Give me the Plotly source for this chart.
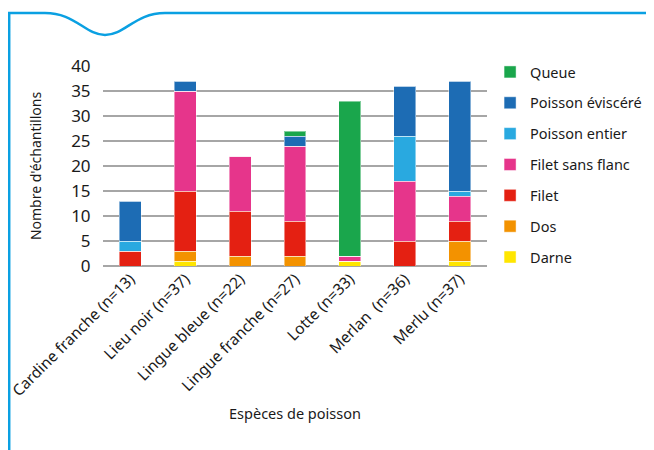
import plotly.graph_objects as go

categories = ["Cardine franche (n=13)", "Lieu noir (n=37)", "Lingue bleue (n=22)",
              "Lingue franche (n=27)", "Lotte (n=33)", "Merlan  (n=36)", "Merlu (n=37)"]
darne = [0, 1, 0, 0, 1, 0, 1]
dos = [0, 2, 2, 2, 0, 0, 4]
filet = [3, 12, 9, 7, 0, 5, 4]
filet_sans_flanc = [0, 20, 11, 15, 1, 12, 5]
poisson_entier = [2, 0, 0, 0, 0, 9, 1]
poisson_eviscere = [8, 2, 0, 2, 0, 10, 22]
queue = [0, 0, 0, 1, 31, 0, 0]
y_ticks = [0, 5, 10, 15, 20, 25, 30, 35, 40]

series = [
    ("Darne", darne, "#ffe600"),
    ("Dos", dos, "#f39200"),
    ("Filet", filet, "#e42012"),
    ("Filet sans flanc", filet_sans_flanc, "#e6358b"),
    ("Poisson entier", poisson_entier, "#29a9e0"),
    ("Poisson éviscéré", poisson_eviscere, "#1d6cb4"),
    ("Queue", queue, "#1aa64c"),
]

W, H = 646, 442
ML, MT = 95, 58
PW, PH = 384, 200
MR, MB = W - ML - PW, H - MT - PH

fig = go.Figure()
n = len(series)
for i, (name, vals, col) in enumerate(series):
    fig.add_trace(go.Bar(
        name=name, x=categories, y=vals, legendgroup=name, legendrank=n - i,
        marker=dict(color=col, line=dict(color="rgba(255,255,255,0.45)", width=1)),
    ))

def px(x):
    return (x - ML) / PW

def py(y):
    return (H - MB - y) / PH

path = (f"M {px(1.2)} {py(460)} L {px(1.2)} {py(5)} L {px(35)} {py(5)} "
        f"C {px(67)} {py(4)} {px(77)} {py(27)} {px(97)} {py(27)} "
        f"C {px(117)} {py(27)} {px(127)} {py(5)} {px(157)} {py(5)} "
        f"L {px(700)} {py(5)}")

fig.update_layout(
    width=W, height=H,
    margin=dict(l=ML, r=MR, t=MT, b=MB, autoexpand=False),
    barmode="stack", bargap=0.6,
    plot_bgcolor="white", paper_bgcolor="white",
    font=dict(family="Noto Sans", color="#1a1a1a", size=13),
    showlegend=True,
    legend=dict(
        x=1.008, xanchor="left", y=1.05, yanchor="top",
        traceorder="grouped", tracegroupgap=9,
        font=dict(size=14.5), itemwidth=30,
        bgcolor="rgba(0,0,0,0)",
    ),
    shapes=[dict(type="path", xref="paper", yref="paper", path=path,
                 line=dict(color="#0aa0e2", width=2.5))],
    xaxis=dict(
        tickangle=-45, tickfont=dict(size=15.5), showgrid=False,
        showline=False, ticks="", automargin=False,
        title=dict(text="Espèces de poisson", font=dict(size=14.5), standoff=9),
    ),
    yaxis=dict(
        range=[0, 40], tickvals=y_ticks, tickfont=dict(size=17),
        showgrid=True, gridcolor="#a6a6a6", gridwidth=2,
        zeroline=True, zerolinecolor="#a6a6a6", zerolinewidth=2,
        ticks="outside", ticklen=8, tickcolor="rgba(0,0,0,0)",
        automargin=False,
        title=dict(text="Nombre d'échantillons", font=dict(size=14), standoff=26),
    ),
)

fig.write_html("out.html")
